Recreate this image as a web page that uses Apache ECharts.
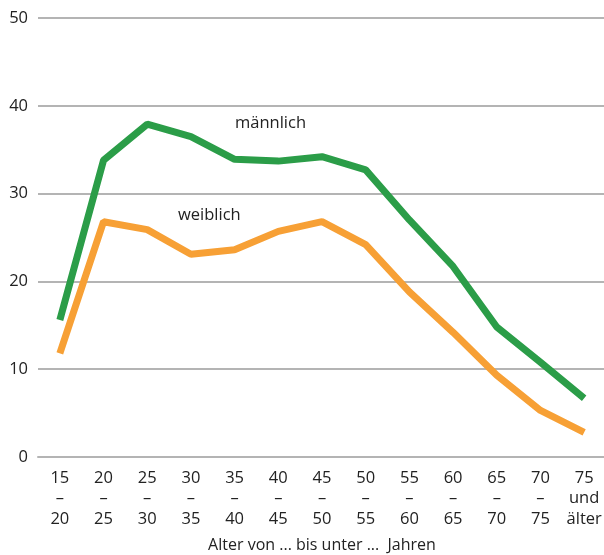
<!DOCTYPE html>
<html><head><meta charset="utf-8">
<script src="https://cdn.jsdelivr.net/npm/echarts@6/dist/echarts.min.js"></script>
<style>html,body{margin:0;padding:0;background:#fff}#c{width:604px;height:555px}</style>
</head><body><div id="c"></div>
<script>
const categories = ['15\n–\n20','20\n–\n25','25\n–\n30','30\n–\n35','35\n–\n40','40\n–\n45','45\n–\n50','50\n–\n55','55\n–\n60','60\n–\n65','65\n–\n70','70\n–\n75','75\nund\nälter'];
const maennlich = [15.6, 33.8, 37.9, 36.5, 33.9, 33.7, 34.2, 32.7, 27.0, 21.7, 14.8, 10.8, 6.7];
const weiblich = [11.8, 26.8, 25.9, 23.1, 23.6, 25.7, 26.8, 24.2, 18.8, 14.2, 9.3, 5.3, 2.8];
const xTitle = 'Alter von ... bis unter ...  Jahren';
const font = '"Open Sans", "Noto Sans", sans-serif';
const chart = echarts.init(document.getElementById('c'));
chart.setOption({
  animation: false,
  grid: {left: 38, right: -2, top: 18, bottom: 98, outerBoundsMode: 'none', containLabel: false},
  xAxis: {
    type: 'category', data: categories, boundaryGap: true,
    name: xTitle, nameLocation: 'middle', nameGap: 80,
    nameTextStyle: {fontFamily: font, fontSize: 16, color: '#222'},
    axisLine: {lineStyle: {color: '#b4b4b4', width: 2}},
    axisTick: {length: 6, lineStyle: {color: '#b4b4b4', width: 2}},
    axisLabel: {fontFamily: font, fontSize: 16.5, color: '#222', lineHeight: 20.5, margin: 11, interval: 0}
  },
  yAxis: {
    type: 'value', min: 0, max: 50, interval: 10,
    axisLine: {show: false}, axisTick: {show: false},
    axisLabel: {fontFamily: font, fontSize: 16.5, color: '#222', margin: 10},
    splitLine: {lineStyle: {color: '#b4b4b4', width: 2}}
  },
  series: [
    {name: 'männlich', type: 'line', data: maennlich, symbol: 'none', lineStyle: {color: '#2b9d48', width: 7}, z: 3},
    {name: 'weiblich', type: 'line', data: weiblich, symbol: 'none', lineStyle: {color: '#f7a035', width: 7}, z: 2}
  ],
  graphic: [
    {type: 'text', left: 235, top: 115, style: {text: 'männlich', font: '16.5px ' + font, fill: '#222'}},
    {type: 'text', left: 178, top: 207, style: {text: 'weiblich', font: '16.5px ' + font, fill: '#222'}}
  ]
});
</script></body></html>
